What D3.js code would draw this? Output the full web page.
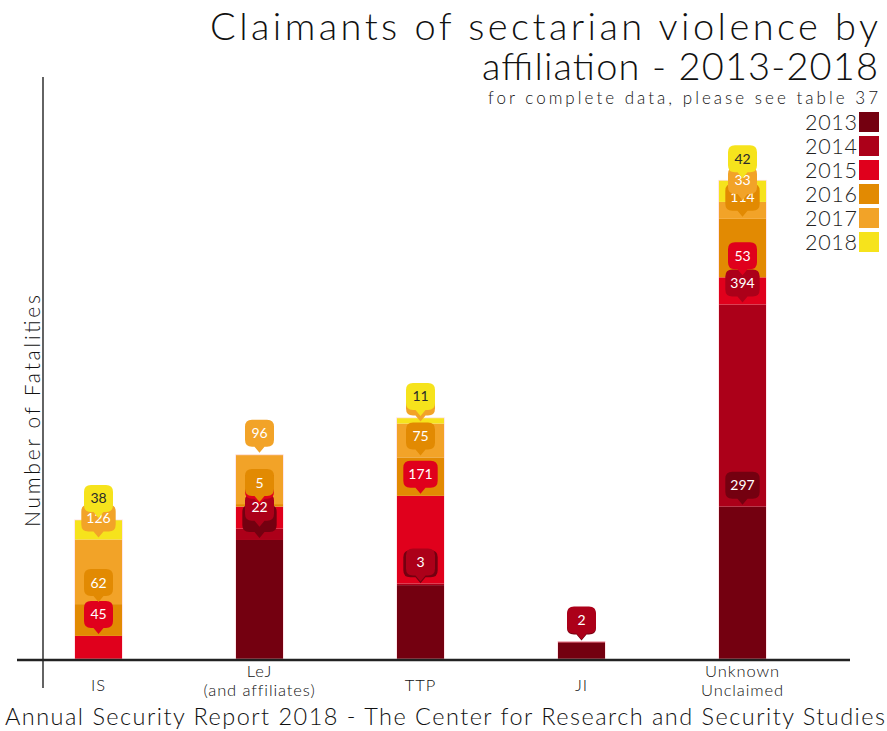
<!DOCTYPE html>
<html>
<head>
<meta charset="utf-8">
<script src="https://cdn.jsdelivr.net/npm/d3@7"></script>
<style>
  html, body { margin: 0; padding: 0; background: #ffffff; }
  svg { display: block; }
  text { font-family: Lato, "Open Sans", sans-serif; }
</style>
</head>
<body>
<svg id="chart" width="887" height="731"></svg>
<script>
// Affiliation groups (multi-line tick labels)
const categories = ["IS", "LeJ", "TTP", "JI", "Unknown"];
const categoryLabels = [["IS"], ["LeJ", "(and affiliates)"], ["TTP"], ["JI"], ["Unknown", "Unclaimed"]];

// Fatalities per year, one array per year, in category order
const years = ["2013", "2014", "2015", "2016", "2017", "2018"];
const fatal2013 = [0, 232, 144, 32, 297];
const fatal2014 = [0, 22, 3, 2, 394];
const fatal2015 = [45, 43, 171, 0, 53];
const fatal2016 = [62, 5, 75, 0, 114];
const fatal2017 = [126, 96, 66, 0, 33];
const fatal2018 = [38, 0, 11, 0, 42];
const seriesValues = [fatal2013, fatal2014, fatal2015, fatal2016, fatal2017, fatal2018];

const yearColors = ["#740010", "#ac0019", "#e0001c", "#e28a02", "#f2a328", "#f6e31c"];
const labelTextColors = ["#ffffff", "#ffffff", "#ffffff", "#ffffff", "#ffffff", "#2a2a2a"];

const svg = d3.select("#chart");

// rows for the stack
const rows = categories.map((c, i) => {
  const r = { cat: c };
  years.forEach((y, k) => { r[y] = seriesValues[k][i]; });
  return r;
});
const stacked = d3.stack().keys(years)(rows);

const x = d3.scaleBand().domain(categories).range([18, 823]).paddingInner(0.708).paddingOuter(0.354);
const y = d3.scaleLinear().domain([0, 1000]).range([659, 146]);

// bars
svg.append("g").selectAll("g")
  .data(stacked)
  .join("g")
  .attr("fill", (d, k) => yearColors[k])
  .selectAll("rect")
  .data(d => d)
  .join("rect")
  .attr("x", d => x(d.data.cat))
  .attr("width", x.bandwidth())
  .attr("y", d => y(d[1]))
  .attr("height", d => y(d[0]) - y(d[1]));

// faint light edge on each bar
svg.append("g").selectAll("rect")
  .data(rows)
  .join("rect")
  .attr("x", d => x(d.cat) - 0.5)
  .attr("width", x.bandwidth() + 1)
  .attr("y", d => y(d3.sum(years, k => d[k])))
  .attr("height", d => y(0) - y(d3.sum(years, k => d[k])))
  .attr("fill", "none")
  .attr("stroke", "#ffd6dc")
  .attr("stroke-opacity", 0.6)
  .attr("stroke-width", 1);

// axes
svg.append("line").attr("x1", 43).attr("x2", 43).attr("y1", 77).attr("y2", 688)
  .attr("stroke", "#222").attr("stroke-width", 1.4);
svg.append("line").attr("x1", 17).attr("x2", 850).attr("y1", 660).attr("y2", 660)
  .attr("stroke", "#222").attr("stroke-width", 2.6);

// helper: spread a text to a given width by adjusting letter spacing only
function spread(sel, width) {
  return sel.attr("textLength", width).attr("lengthAdjust", "spacing");
}

// category tick labels
const tickG = svg.append("g");
categoryLabels.forEach((lines, i) => {
  const cx = x(categories[i]) + x.bandwidth() / 2;
  lines.forEach((ln, j) => {
    const yy = lines.length === 1 ? 691 : 677 + j * 19;
    tickG.append("text")
      .attr("x", cx).attr("y", yy)
      .attr("text-anchor", "middle")
      .attr("font-size", 16.5)
      .attr("font-weight", 300)
      .attr("letter-spacing", 0.9)
      .attr("fill", "#111")
      .text(ln);
  });
});

// value call-outs: rounded box with a pointer, sitting on each segment's top
const bh = 27, rad = 7, ph = 6, pw = 5;
function bubblePath(cx, tipY, bw) {
  const b = tipY - ph;          // box bottom
  const t = b - bh;             // box top
  const l = cx - bw / 2, rr = cx + bw / 2;
  return `M${l + rad},${t} L${rr - rad},${t} Q${rr},${t} ${rr},${t + rad} L${rr},${b - rad} Q${rr},${b} ${rr - rad},${b}` +
         ` L${cx + pw},${b} L${cx},${tipY} L${cx - pw},${b} L${l + rad},${b} Q${l},${b} ${l},${b - rad}` +
         ` L${l},${t + rad} Q${l},${t} ${l + rad},${t} Z`;
}

// collect call-outs per bar so a text covered by a later bubble can be skipped
const callouts = [];
stacked.forEach((layer, k) => {
  layer.forEach((seg, i) => {
    const v = seg.data[years[k]];
    if (!v) return;
    callouts.push({ k, i, v, cx: x(seg.data.cat) + x.bandwidth() / 2, tip: y(seg[1]) - 2 });
  });
});
callouts.forEach(c => {
  c.hidden = callouts.some(o => o.i === c.i && o.k > c.k && Math.abs(o.tip - c.tip) < 12);
});

const labelG = svg.append("g");
callouts.forEach(c => {
  const g = labelG.append("g");
  const path = g.append("path").attr("fill", yearColors[c.k]);
  const t = g.append("text")
    .attr("x", c.cx)
    .attr("y", c.tip - ph - bh / 2 + 5)
    .attr("text-anchor", "middle")
    .attr("font-size", 14)
    .attr("fill", labelTextColors[c.k])
    .text(c.v);
  const tw = t.node().getComputedTextLength();
  path.attr("d", bubblePath(c.cx, c.tip, Math.max(29, tw + 10)));
  if (c.hidden) t.remove();
});

// title block
spread(svg.append("text").attr("x", 878).attr("y", 40).attr("text-anchor", "end")
  .attr("font-size", 38).attr("font-weight", 300).attr("fill", "#111")
  .text("Claimants of sectarian violence by"), 668);
spread(svg.append("text").attr("x", 878).attr("y", 80).attr("text-anchor", "end")
  .attr("font-size", 38).attr("font-weight", 300).attr("fill", "#111")
  .text("affiliation - 2013-2018"), 396);
spread(svg.append("text").attr("x", 878).attr("y", 104).attr("text-anchor", "end")
  .attr("font-size", 17).attr("font-weight", 300).attr("fill", "#111")
  .text("for complete data, please see table 37"), 390);

// legend
const legend = svg.append("g");
years.forEach((yr, k) => {
  const yy = 112 + k * 24;
  legend.append("rect").attr("x", 859).attr("y", yy).attr("width", 20).attr("height", 20)
    .attr("fill", yearColors[k]);
  spread(legend.append("text").attr("x", 857).attr("y", yy + 18).attr("text-anchor", "end")
    .attr("font-size", 21.5).attr("font-weight", 300).attr("fill", "#222").text(yr), 52);
});

// y axis title
spread(svg.append("text").attr("transform", "translate(40,411) rotate(-90)")
  .attr("text-anchor", "middle").attr("font-size", 21).attr("font-weight", 300).attr("fill", "#111")
  .text("Number of Fatalities"), 232);

// footer
spread(svg.append("text").attr("x", 5).attr("y", 725).attr("font-size", 23.5).attr("font-weight", 300).attr("fill", "#111")
  .text("Annual Security Report 2018 - The Center for Research and Security Studies"), 880);
</script>
</body>
</html>
